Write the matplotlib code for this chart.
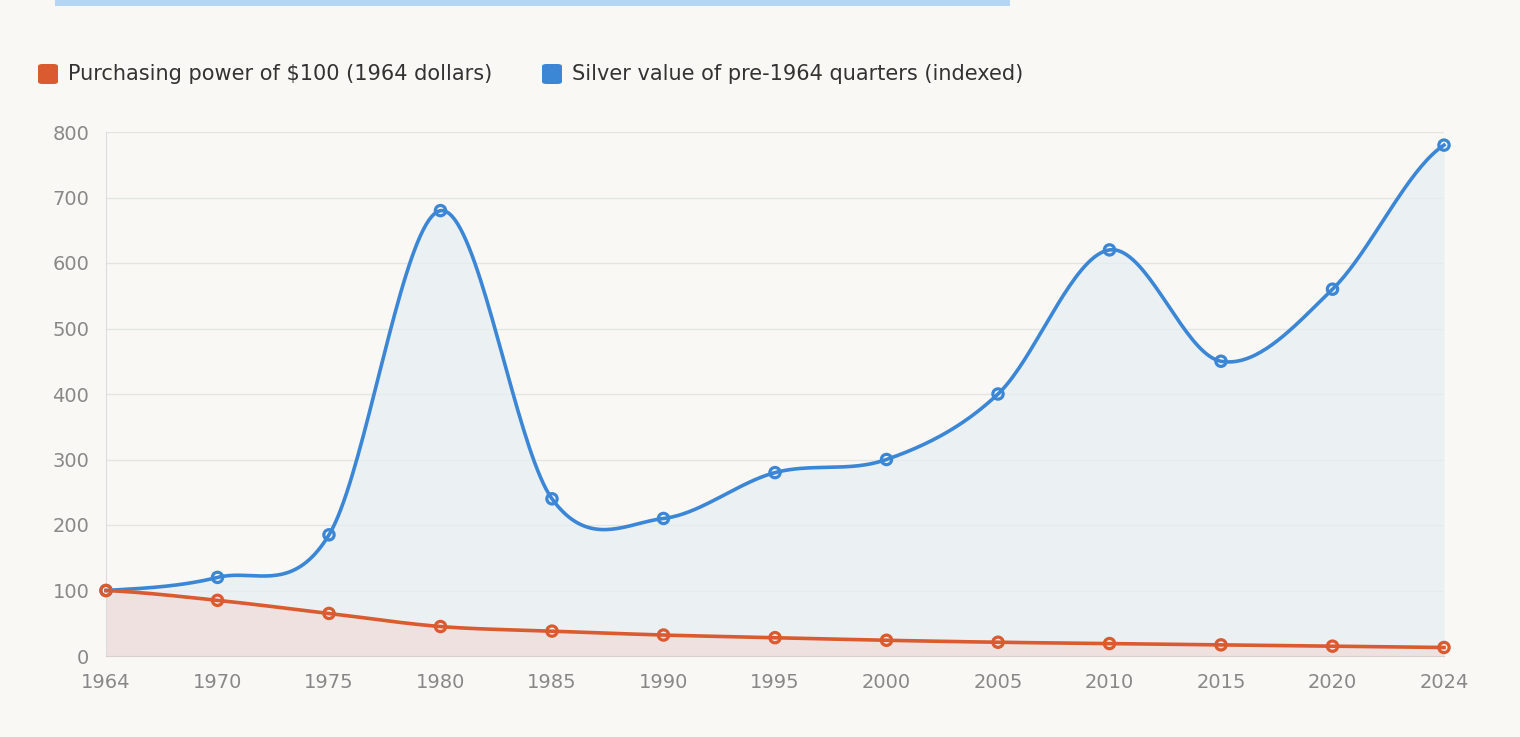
import matplotlib
matplotlib.use("Agg")
import matplotlib.pyplot as plt
import numpy as np
from matplotlib.patches import FancyBboxPatch, Rectangle

years = ["1964", "1970", "1975", "1980", "1985", "1990", "1995",
         "2000", "2005", "2010", "2015", "2020", "2024"]
silver = [100, 120, 185, 680, 240, 210, 280, 300, 400, 620, 450, 560, 780]
power = [100, 85, 65, 45, 38, 32, 28, 24, 21, 19, 17, 15, 13]

BG = "#f9f8f5"
RED = "#d95b2f"
BLUE = "#3b87d6"


def smooth(y, n=40):
    # Catmull-Rom style curve through the points, only for drawing
    y = np.asarray(y, float)
    m = np.zeros_like(y)
    m[1:-1] = 0.5 * (y[2:] - y[:-2])
    m[0] = 0.5 * (y[1] - y[0])
    m[-1] = 0.5 * (y[-1] - y[-2])
    xs, ys = [], []
    for i in range(len(y) - 1):
        t = np.linspace(0, 1, n)
        h00 = 2 * t**3 - 3 * t**2 + 1
        h10 = t**3 - 2 * t**2 + t
        h01 = -2 * t**3 + 3 * t**2
        h11 = t**3 - t**2
        xs.append(i + t)
        ys.append(h00 * y[i] + h10 * m[i] + h01 * y[i + 1] + h11 * m[i + 1])
    return np.concatenate(xs), np.concatenate(ys)


fig = plt.figure(figsize=(15.2, 7.37), dpi=100, facecolor=BG)
ax = fig.add_axes([106 / 1520, 81 / 737, (1444 - 106) / 1520, (656 - 132) / 737])
ax.set_facecolor(BG)

x = np.arange(len(years))
for vals, col, fill in [(silver, BLUE, "#e6eef3"), (power, RED, "#f1dcd7")]:
    sx, sy = smooth(vals)
    ax.fill_between(sx, 0, sy, color=fill, alpha=0.7, lw=0, zorder=1)
    ax.plot(sx, sy, color=col, lw=2.6, zorder=3, clip_on=False)
    ax.scatter(x, vals, s=55, facecolor="none", edgecolor=col, linewidth=2.3,
               zorder=4, clip_on=False)

ax.set_xlim(0, len(years) - 1)
ax.set_ylim(0, 800)
ax.set_yticks(range(0, 801, 100))
ax.set_xticks(x)
ax.set_xticklabels(years)
ax.grid(axis="y", color="#e4e4e2", lw=1)
ax.set_axisbelow(True)
for s in ["top", "right"]:
    ax.spines[s].set_visible(False)
ax.spines["left"].set_color("#dddddd")
ax.spines["bottom"].set_color("#d8d0cc")
ax.tick_params(colors="#888888", labelsize=14, length=0, pad=12)

# legend
for lx, col, txt in [(38, RED, "Purchasing power of $100 (1964 dollars)"),
                     (542, BLUE, "Silver value of pre-1964 quarters (indexed)")]:
    fig.patches.append(FancyBboxPatch((lx / 1520, 1 - 84 / 737), 20 / 1520, 20 / 737,
                                      boxstyle="round,pad=0,rounding_size=0.003",
                                      transform=fig.transFigure, color=col, ec="none"))
    fig.text((lx + 30) / 1520, 1 - 74 / 737, txt, fontsize=15, color="#333333", va="center")

# cut-off title highlight at top
fig.patches.append(Rectangle((55 / 1520, 1 - 6 / 737), (1010 - 55) / 1520, 6 / 737,
                             transform=fig.transFigure, color="#b5d5f5", ec="none"))

fig.savefig("out.png", dpi=100, facecolor=BG)
